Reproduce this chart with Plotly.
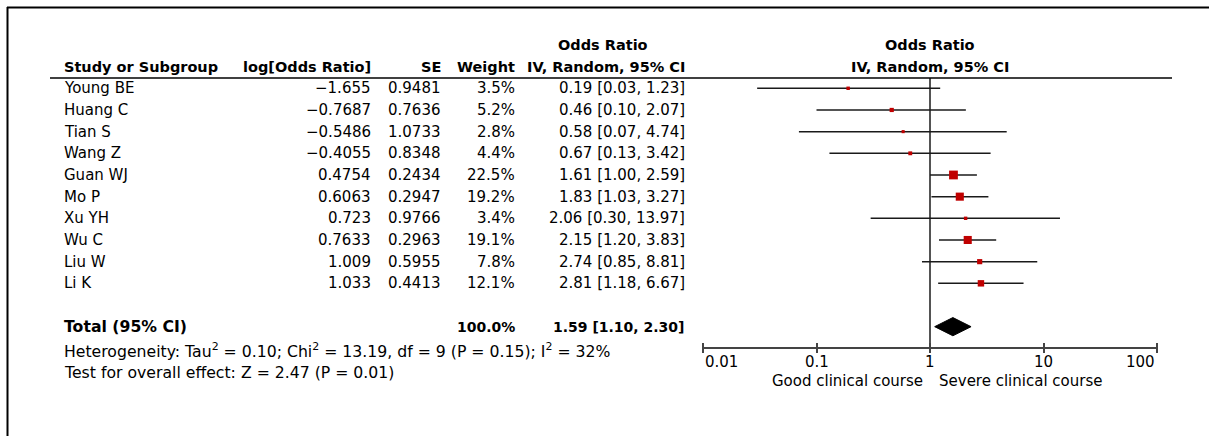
import math
import plotly.graph_objects as go

# ---------------- data ----------------
studies = ["Young BE", "Huang C", "Tian S", "Wang Z", "Guan WJ", "Mo P",
           "Xu YH", "Wu C", "Liu W", "Li K"]
log_or = ["−1.655", "−0.7687", "−0.5486", "−0.4055", "0.4754", "0.6063",
          "0.723", "0.7633", "1.009", "1.033"]
se = ["0.9481", "0.7636", "1.0733", "0.8348", "0.2434", "0.2947",
      "0.9766", "0.2963", "0.5955", "0.4413"]
weights = [3.5, 5.2, 2.8, 4.4, 22.5, 19.2, 3.4, 19.1, 7.8, 12.1]
or_est = [0.19, 0.46, 0.58, 0.67, 1.61, 1.83, 2.06, 2.15, 2.74, 2.81]
ci_low = [0.03, 0.10, 0.07, 0.13, 1.00, 1.03, 0.30, 1.20, 0.85, 1.18]
ci_high = [1.23, 2.07, 4.74, 3.42, 2.59, 3.27, 13.97, 3.83, 8.81, 6.67]
total_or, total_low, total_high = 1.59, 1.10, 2.30
total_weight = "100.0%"
tick_vals = [0.01, 0.1, 1, 10, 100]
tick_text = ["0.01", "0.1", "1", "10", "100"]
heterogeneity = ("Heterogeneity: Tau<sup>2</sup> = 0.10; Chi<sup>2</sup> = 13.19, "
                 "df = 9 (P = 0.15); I<sup>2</sup> = 32%")
overall = "Test for overall effect: Z = 2.47 (P = 0.01)"
left_label = "Good clinical course"
right_label = "Severe clinical course"

# ---------------- layout helpers ----------------
W, H = 1209, 436
ROW0, STEP = 88.3, 21.67          # pixel y of first row, row pitch
rmin = -ROW0 / STEP
rmax = rmin + H / STEP
FONT = "DejaVu Sans"
FS = 15
FS_HEAD = 14.5
FS_FOOT = 15.7
RED = "#c00000"


def px(x):
    return x / W


def row_px(r):
    return ROW0 + r * STEP


axis_row = 11.97
axis_pos = 1 - row_px(axis_row) / H
header_row = -0.475
dom = [px(703), px(1157)]

fig = go.Figure()

# CI lines
for i in range(len(studies)):
    fig.add_trace(go.Scatter(x=[ci_low[i], ci_high[i]], y=[i, i], mode="lines",
                             line=dict(color="#1a1a1a", width=1.5),
                             hoverinfo="skip", showlegend=False))

# point estimates (square area ~ weight)
fig.add_trace(go.Scatter(x=or_est, y=list(range(len(studies))), mode="markers",
                         marker=dict(symbol="square", color=RED, opacity=1,
                                     size=[1.85 * math.sqrt(w) for w in weights],
                                     line=dict(width=0)),
                         hoverinfo="skip", showlegend=False))

# line of no effect
fig.add_trace(go.Scatter(x=[1, 1], y=[header_row, axis_row], mode="lines",
                         line=dict(color="#1a1a1a", width=1.5),
                         hoverinfo="skip", showlegend=False))

# pooled diamond
tr = 11
fig.add_trace(go.Scatter(x=[total_low, total_or, total_high, total_or, total_low],
                         y=[tr, tr - 0.42, tr, tr + 0.42, tr], mode="lines",
                         fill="toself", fillcolor="black",
                         line=dict(color="black", width=1),
                         hoverinfo="skip", showlegend=False))

# invisible trace for the upper-tick axis
fig.add_trace(go.Scatter(x=[1], y=[0], xaxis="x2", mode="markers",
                         marker=dict(opacity=0), hoverinfo="skip", showlegend=False))

ann = []


def text(x, r, s, anchor="left", bold=False, size=FS):
    ann.append(dict(x=px(x), y=r, xref="paper", yref="y", text=f"<b>{s}</b>" if bold else s,
                    showarrow=False, xanchor=anchor, yanchor="middle",
                    font=dict(family=FONT, size=size, color="black")))


# headers
text(603, -2, "Odds Ratio", "center", True, FS_HEAD)
text(62, -1, "Study or Subgroup", "left", True, FS_HEAD)
text(373, -1, "log[Odds Ratio]", "right", True, FS_HEAD)
text(443, -1, "SE", "right", True, FS_HEAD)
text(517, -1, "Weight", "right", True, FS_HEAD)
text(687, -1, "IV, Random, 95% CI", "right", True, FS_HEAD)
text(930, -2, "Odds Ratio", "center", True, FS_HEAD)
text(930, -1, "IV, Random, 95% CI", "center", True, FS_HEAD)

# rows
for i, s in enumerate(studies):
    text(62, i, s, "left")
    text(373, i, log_or[i], "right")
    text(443, i, se[i], "right")
    text(517, i, f"{weights[i]:.1f}%", "right")
    text(687, i, f"{or_est[i]:.2f} [{ci_low[i]:.2f}, {ci_high[i]:.2f}]", "right")

# total
text(62, 11, "Total (95% CI)", "left", True, FS_FOOT)
text(517, 11, total_weight, "right", True, 14)
text(687, 11, f"{total_or:.2f} [{total_low:.2f}, {total_high:.2f}]", "right", True, 14)
text(62, 12.1, heterogeneity, "left", False, FS_FOOT)
text(62, 13.1, overall, "left", False, FS_FOOT)

# tick labels
for v, t in zip(tick_vals, tick_text):
    anchor = "left" if v == tick_vals[0] else ("right" if v == tick_vals[-1] else "center")
    ann.append(dict(x=math.log10(v), y=12.63, xref="x", yref="y", text=t, showarrow=False,
                    xanchor=anchor, yanchor="middle",
                    font=dict(family=FONT, size=FS, color="black")))

text(925, 13.5, left_label, "right")
text(937, 13.5, right_label, "left")

shapes = [
    # frame (top and left)
    dict(type="line", xref="paper", yref="paper", x0=px(7), x1=1, y0=1 - 7.5 / H, y1=1 - 7.5 / H,
         line=dict(color="black", width=2)),
    dict(type="line", xref="paper", yref="paper", x0=px(7.5), x1=px(7.5), y0=0, y1=1 - 7 / H,
         line=dict(color="black", width=2)),
    # header rule
    dict(type="line", xref="paper", yref="y", x0=px(50), x1=px(1172), y0=header_row, y1=header_row,
         line=dict(color="black", width=1.5)),
]

fig.update_layout(
    width=W, height=H, margin=dict(l=0, r=0, t=0, b=0),
    paper_bgcolor="white", plot_bgcolor="rgba(0,0,0,0)",
    xaxis=dict(type="log", range=[-2, 2], domain=dom, anchor="free", position=axis_pos,
               showgrid=False, zeroline=False, showline=True, linecolor="#444", linewidth=1.5,
               ticks="outside", ticklen=5, tickwidth=1.5, tickcolor="#444",
               tickvals=tick_vals, showticklabels=False, fixedrange=True),
    xaxis2=dict(type="log", range=[-2, 2], domain=dom, anchor="free", position=axis_pos,
                overlaying="x", side="top", showgrid=False, zeroline=False, showline=False,
                ticks="outside", ticklen=5, tickwidth=1.5, tickcolor="#444",
                tickvals=tick_vals, showticklabels=False, fixedrange=True),
    yaxis=dict(range=[rmax, rmin], domain=[0, 1], visible=False, fixedrange=True),
    annotations=ann, shapes=shapes, showlegend=False,
)

fig.write_html("out.html")
